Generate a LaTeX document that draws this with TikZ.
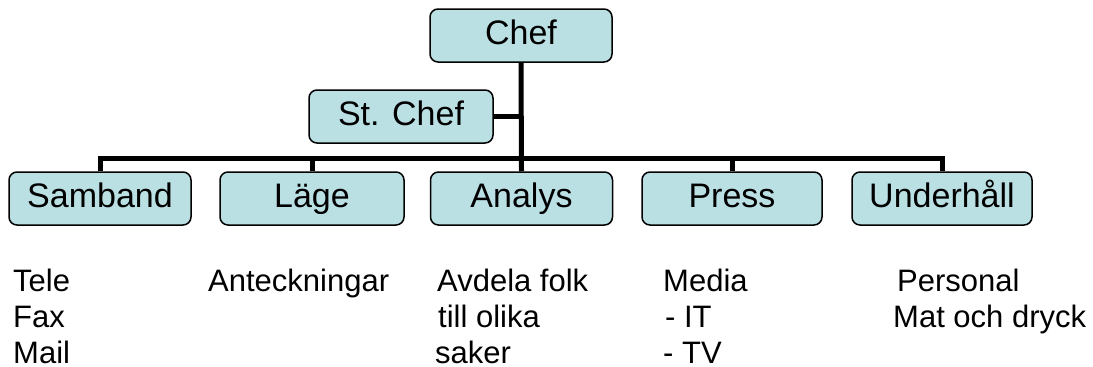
\documentclass[tikz,border=0pt]{standalone}
\usepackage{fontspec}
\setmainfont{Liberation Sans}
\definecolor{boxfill}{RGB}{186,224,228}
\begin{document}
\begin{tikzpicture}[x=1pt,y=-1pt,
  orgbox/.style={draw=black, line width=1.5pt, fill=boxfill, rounded corners=8pt,
    minimum width=182pt, minimum height=53pt, inner sep=0pt,
    font=\fontsize{34}{40}\selectfont, text height=25pt, text depth=7pt},
  link/.style={line width=5pt},
  item/.style={anchor=base west, inner sep=0pt, font=\fontsize{31}{36}\selectfont}]
\useasboundingbox (0,0) rectangle (1093,367);
\node[orgbox] (chef) at (521,35.5) {Chef};
\node[orgbox, minimum width=184pt] (stchef) at (401,116.5) {St. Chef};
\node[orgbox] (samband) at (100,198.5) {Samband};
\node[orgbox, minimum width=184pt] (lage) at (312,198.5) {Läge};
\node[orgbox] (analys) at (521.5,198.5) {Analys};
\node[orgbox, minimum width=180pt] (press) at (732,198.5) {Press};
\node[orgbox, minimum width=180pt] (underhall) at (942,198.5) {Underhåll};
\coordinate (bus) at (0,158);
\draw[link] (chef.south) -- (analys.north);
\draw[link] (stchef.east) -- (stchef.east -| chef.south);
\draw[link, line join=miter] (samband.north) -- (samband.north |- bus) -- (underhall.north |- bus) -- (underhall.north);
\draw[link] (lage.north) -- (lage.north |- bus);
\draw[link] (press.north) -- (press.north |- bus);
\node[item] (t1) at (13,291) {Tele};
\node[item] (t2) at (13,327) {Fax};
\node[item] (t3) at (13,363) {Mail};
\node[item] (a1) at (208,291) {Anteckningar};
\node[item] (b1) at (437,291) {Avdela folk};
\node[item] (b2) at (438,327) {till olika};
\node[item] (b3) at (435,363) {saker};
\node[item] (c1) at (663,291) {Media};
\node[item] (c2) at (665,327) {- IT};
\node[item] (c3) at (663,363) {- TV};
\node[item] (d1) at (897,291) {Personal};
\node[item] (d2) at (893,327) {Mat och dryck};
\end{tikzpicture}
\end{document}
